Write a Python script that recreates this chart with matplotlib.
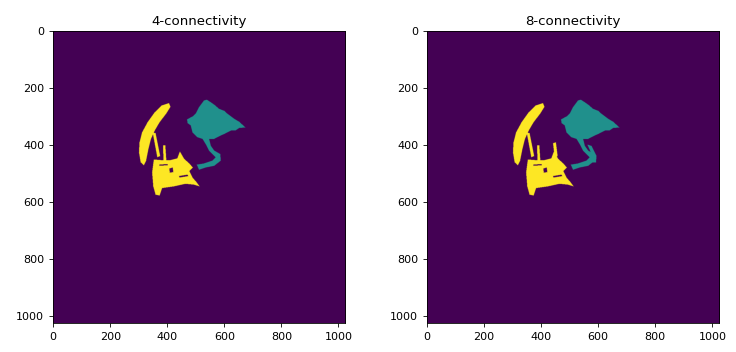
import numpy as np
import matplotlib
matplotlib.use("Agg")
import matplotlib.pyplot as plt
from matplotlib.path import Path

# --------------------------------------------------
# 1. Region outlines (image coords: x = column, y = row)
# --------------------------------------------------
size = 1024
titles = ["4-connectivity", "8-connectivity"]

# yellow crescent
crescent = [(405, 255), (410, 268), (395, 292), (372, 322), (355, 351), (342, 380),
            (333, 415), (325, 456), (317, 472), (306, 462), (300, 427), (302, 392),
            (311, 357), (330, 322), (355, 287), (380, 263)]
# thin stalks between crescent and lower blob
stalk = [(348, 358), (358, 360), (374, 440), (364, 444)]
stalk2 = [(384, 402), (392, 402), (396, 460), (386, 460)]
# yellow lower blob
lower_blob = [(352, 452), (375, 454), (411, 454), (434, 448), (443, 424), (458, 450),
              (476, 466), (488, 480), (476, 492), (487, 515), (500, 530), (512, 546),
              (492, 540), (463, 537), (422, 546), (381, 552), (372, 578), (358, 575),
              (350, 546), (346, 497)]
holes = [[(406, 484), (418, 480), (420, 496), (408, 498)],
         [(440, 510), (470, 505), (472, 510), (442, 515)],
         [(372, 470), (400, 468), (400, 472), (372, 474)]]

# teal blob with tail
teal_blob = [(468, 312), (490, 300), (498, 292), (510, 269), (527, 246), (537, 243),
             (551, 252), (565, 262), (580, 275), (598, 282), (609, 292), (633, 310),
             (650, 320), (672, 340), (650, 342), (638, 350), (621, 351), (600, 362),
             (586, 368), (563, 380), (545, 380), (551, 404), (563, 421), (584, 433),
             (586, 456), (563, 474), (533, 480), (510, 488), (502, 470), (527, 466),
             (557, 456), (568, 445), (545, 421), (533, 398), (522, 380), (504, 374),
             (487, 357), (481, 333), (470, 325)]

# extra pieces that only join up with 8-connectivity
extra_yellow_8 = [[(440, 395), (450, 392), (456, 440), (446, 448)]]
extra_teal_8 = [[(560, 400), (575, 405), (592, 440), (590, 462), (575, 462), (578, 440)]]

# --------------------------------------------------
# 2. Build label images
# --------------------------------------------------
yy, xx = np.mgrid[0:size, 0:size]
pts = np.column_stack([xx.ravel(), yy.ravel()])


def mask_of(poly):
    return Path(poly).contains_points(pts).reshape(size, size)


def make_labels(yellow, teal, dark):
    img = np.zeros((size, size))
    for poly in teal:
        img[mask_of(poly)] = 1
    for poly in yellow:
        img[mask_of(poly)] = 2
    for poly in dark:
        img[mask_of(poly)] = 0
    return img


labels_4 = make_labels([crescent, stalk, stalk2, lower_blob], [teal_blob], holes)
labels_8 = make_labels([crescent, stalk, stalk2, lower_blob] + extra_yellow_8,
                       [teal_blob] + extra_teal_8, holes)

# --------------------------------------------------
# 3. Plot
# --------------------------------------------------
fig = plt.figure(figsize=(7.36, 3.52), dpi=100)
positions = [[0.072, 0.082, 0.397, 0.83], [0.580, 0.082, 0.397, 0.83]]

for pos, title, labels in zip(positions, titles, [labels_4, labels_8]):
    ax = fig.add_axes(pos)
    ax.imshow(labels, cmap="viridis", vmin=0, vmax=2)
    ax.set_title(title, fontsize=9.6, pad=4)
    ax.set_xticks([0, 200, 400, 600, 800, 1000])
    ax.set_yticks([0, 200, 400, 600, 800, 1000])
    ax.tick_params(labelsize=8, length=2.8, width=0.6)
    for s in ax.spines.values():
        s.set_linewidth(0.6)

plt.savefig("out.png", dpi=100)
